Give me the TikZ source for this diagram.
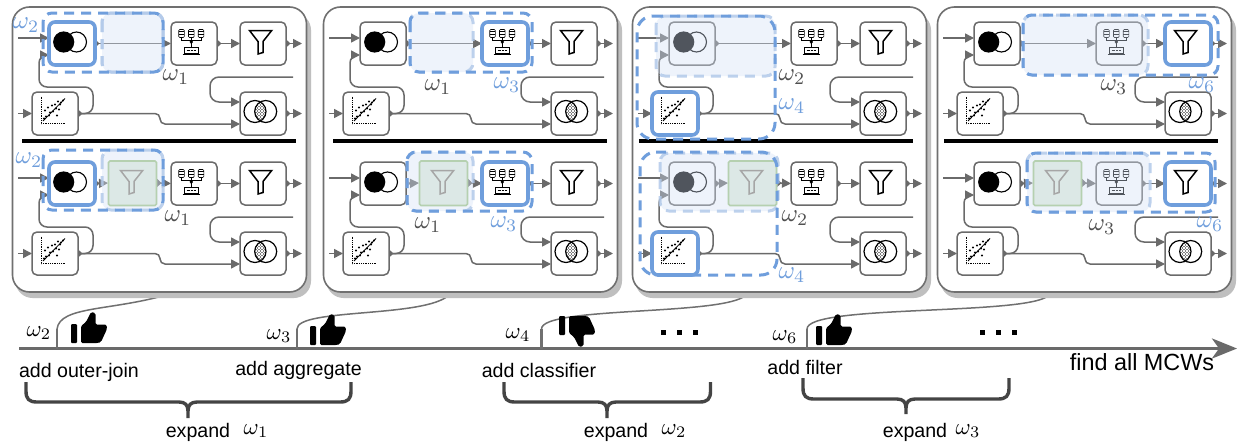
\documentclass[tikz,border=0pt]{standalone}
\usepackage{fontspec}
\setmainfont{Liberation Sans}
\usetikzlibrary{arrows.meta}
\definecolor{lnk}{HTML}{6A6A6A}
\definecolor{bord}{HTML}{707070}
\definecolor{hlb}{HTML}{6F9EDC}
\definecolor{ghb}{HTML}{D4E1F6}
\definecolor{ghd}{HTML}{B3CAEA}
\definecolor{shad}{HTML}{BFBFBF}
\definecolor{gfill}{HTML}{DCE8E6}
\definecolor{gline}{HTML}{B5D0B0}
\definecolor{omg}{HTML}{505050}
\definecolor{dbrace}{HTML}{444444}
\tikzset{
 panelbox/.style={draw=bord,fill=white,line width=1.6pt,rounded corners=17pt,minimum width=294pt,minimum height=285pt,outer sep=0pt},
 shadowbox/.style={fill=shad,rounded corners=17pt},
 opbox/.style={draw=lnk,fill=white,line width=1.5pt,rounded corners=5pt,minimum width=46pt,minimum height=43pt,inner sep=0pt,outer sep=0pt},
 hiddenbox/.style={minimum width=49pt,minimum height=45pt,inner sep=0pt,outer sep=0pt},
 conn/.style={draw=lnk,line width=1.5pt,-{Triangle[length=9pt,width=9pt]}},
 pconn/.style={draw=lnk,line width=1.5pt,{Triangle[reversed,length=4.5pt,width=8pt]}-{Triangle[length=9pt,width=9pt]}},
 ghostarea/.style={fill=ghb,fill opacity=.38,draw=ghd,draw opacity=.85,line width=3pt,dash pattern=on 10pt off 7pt,rounded corners=9pt},
 strongdash/.style={draw=hlb,line width=3pt,dash pattern=on 10pt off 7pt,rounded corners=9pt},
 hilite/.style={draw=hlb,line width=3.6pt,rounded corners=6pt},
 lbl/.style={font=\fontsize{19.6}{22}\selectfont,text=black,anchor=base,inner sep=0pt},
 omgray/.style={text=omg,inner sep=0pt},
 omblue/.style={text=hlb,inner sep=0pt},
 omblack/.style={text=black,inner sep=0pt},
 bracepath/.style={draw=dbrace,line width=3.4pt},
 curveup/.style={draw=bord,line width=1.5pt},
 tickmark/.style={draw=bord,line width=2.8pt},
}
\newcommand\om[1]{\scalebox{2.5}{$\omega_{#1}$}}
\newcommand\omt[1]{\scalebox{2.3}{$\omega_{#1}$}}
\newcommand\iconjoin[2]{\begin{scope}[shift={(#1,#2)}]
 \draw[line width=1.1pt,fill=white] (4.5,-1.5) circle (10);
 \fill[black] (-8.3,-1.5) circle (10.6);
\end{scope}}
\newcommand\iconfunnel[3]{\begin{scope}[shift={(#1,#2)}]
 \draw[draw=#3,line width=1.5pt,fill=none,line join=miter] (-13.5,-13)--(8.7,-13)--(0,-2)--(0,9)--(-5,10.5)--(-5,-2)--cycle;
\end{scope}}
\newcommand\iconinter[2]{\begin{scope}[shift={(#1,#2)}]
 \begin{scope}\clip (-8,-2) circle (11);\clip (2.7,-2) circle (11);
  \foreach \u in {-7,-4,...,5}{\foreach \v in {-13,-10,...,9}{\fill[black] (\u,\v) circle (.62);}}
  \foreach \u in {-5.5,-2.5,...,6.5}{\foreach \v in {-11.5,-8.5,...,9}{\fill[black] (\u,\v) circle (.62);}}
 \end{scope}
 \draw[line width=1.2pt] (-8,-2) circle (11) (2.7,-2) circle (11);
\end{scope}}
\newcommand\iconagg[2]{\begin{scope}[shift={(#1,#2)}]
 \foreach \d in {-12.5,-2.7,7}{
  \draw[line width=.6pt,fill=white,rounded corners=1pt] (\d-2.8,-14) rectangle (\d+2.8,-6);
  \fill[black] (\d-2.8,-12.5) rectangle (\d+2.8,-11.5);
  \fill[black] (\d-2.8,-9.5) rectangle (\d+2.8,-8.7);
  \draw[line width=.5pt] (\d,-6)--(\d,-3);
 }
 \draw[line width=.5pt] (-12.5,-3)--(7,-3) (-2.7,-3)--(-2.7,3.5);
 \fill[black] (-2.7,-3.6)--(-0.9,-1.6)--(-2.7,.4)--(-4.5,-1.6)--cycle;
 \draw[line width=.7pt] (-9.5,3.5) rectangle (4,10);
 \draw[line width=.4pt,densely dotted] (-7.5,6.5)--(2,6.5);
 \draw[line width=1.2pt] (-11.5,11)--(6,11);
\end{scope}}
\newcommand\iconscatter[2]{\begin{scope}[shift={(#1,#2)}]
 \draw[line width=.9pt,dash pattern=on 1pt off .8pt] (-14,-17)--(-14,10)--(11,10);
 \draw[line width=.8pt] (-12,7.5)--(10,-15);
 \foreach \u/\v in {-11/5,-9/3,-10/-3,-7/-6,-5/-1,-3/-8,-2/-2,0/-9,1/-5,2/2,3/-12,5/-9,6/-11,8/-13,4/-4,-6/2}{\fill[black] (\u,\v) circle [radius=1.15];}
\end{scope}}
% one half of a panel; #1 names, #2 x origin, #3 y origin
\newcommand\halfbase[3]{\begin{scope}[shift={(#2,#3)}]
 \node[opbox] (#1j) at (60,43.5) {};
 \node[opbox] (#1a) at (182,43.5) {};
 \node[opbox] (#1f) at (251,43.5) {};
 \node[opbox] (#1c) at (43,113.5) {};
 \node[opbox] (#1i) at (251,113.5) {};
 \coordinate (#1in) at (6,38); \coordinate (#1jt) at (37,38);
 \coordinate (#1jb) at (37,55); \coordinate (#1cb) at (27,55);
 \coordinate (#1cl) at (27,87); \coordinate (#1ct) at (81,87); \coordinate (#1cr) at (81,113.5);
 \coordinate (#1cin) at (6,113.5);
 \coordinate (#1fo) at (290,43.5); \coordinate (#1io) at (290,113.5);
 \coordinate (#1m1) at (148,113.5); \coordinate (#1m2) at (148,124); \coordinate (#1ib) at (228,124);
 \coordinate (#1ft) at (281,77); \coordinate (#1f1) at (198,77); \coordinate (#1f2) at (198,102); \coordinate (#1it) at (228,102);
 \draw[conn] (#1in)--(#1jt);
 \draw[conn] (#1cin)--(#1c.west);
 \draw[conn,rounded corners=8pt] (#1c.east)--(#1cr)--(#1ct)--(#1cl)--(#1cb)--(#1jb);
 \draw[pconn,rounded corners=5pt] (#1c.east)--(#1m1)--(#1m2)--(#1ib);
 \draw[conn,rounded corners=9pt] (#1ft)--(#1f1)--(#1f2)--(#1it);
 \draw[pconn] (#1a.east)--(#1f.west);
 \draw[pconn] (#1f.east)--(#1fo);
 \draw[pconn] (#1i.east)--(#1io);
 \iconjoin{60}{43.5}\iconagg{182}{43.5}\iconfunnel{251}{43.5}{black}
 \iconscatter{43}{113.5}\iconinter{251}{113.5}
\end{scope}}
\newcommand\halfupper[2]{\halfbase{#1}{#2}{0}\draw[pconn] (#1j.east)--(#1a.west);}
\newcommand\halflower[2]{\halfbase{#1}{#2}{140}
 \begin{scope}[shift={(#2,140)}]\node[hiddenbox] (#1g) at (120.5,43) {};\end{scope}
 \draw[pconn] (#1j.east)--(#1g.west);
 \draw[pconn] (#1g.east)--(#1a.west);}
\newcommand\ghostf[1]{\begin{scope}[shift={(#1,140)}]
 \draw[draw=gline,fill=gfill,line width=1.6pt,rounded corners=1.5pt] (96.5,21) rectangle (144.5,65.5);
 \iconfunnel{122}{43.5}{black!35}
\end{scope}}
\newcommand\hili[1]{\draw[hilite] (#1.south west) rectangle (#1.north east);}
\newcommand\thumbup[3]{\begin{scope}[shift={(#1,#2)},yscale=#3]
 \fill[black,rounded corners=1pt] (0,0) rectangle (6,-19);
 \fill[black,rounded corners=1.5pt] (10,0)--(10,-17)--(15,-21)--(20,-31)--(24.5,-30)--(24.5,-18.5)--(35.5,-18.5)--(36,-14)--(30,-1)--(27,0)--cycle;
\end{scope}}
% brace: #1 left, #2 right, #3 middle, #4 top, #5 bar, #6 tip
\newcommand\bracedraw[6]{
 \draw[bracepath,line join=round] (#1,#4)--(#1,#5-11) .. controls (#1,#5-3) and (#1+3,#5) .. (#1+11,#5)
   --(#3-9,#5) .. controls (#3-3,#5) and (#3,#5+3) .. (#3,#5+9)--(#3,#6);
 \draw[bracepath,line join=round] (#2,#4)--(#2,#5-11) .. controls (#2,#5-3) and (#2-3,#5) .. (#2-11,#5)
   --(#3+9,#5) .. controls (#3+3,#5) and (#3,#5+3) .. (#3,#5+9);
}
\begin{document}
\begin{tikzpicture}[x=1pt,y=-1pt]
\useasboundingbox (0,0) rectangle (1237,442);
\fill[white] (0,0) rectangle (1237,442);
% timeline connectors
\coordinate (t1) at (57,329); \coordinate (t2) at (297,329); \coordinate (t3) at (541.5,329); \coordinate (t4) at (807,329);
\coordinate (ax1) at (57,348.5); \coordinate (ax2) at (297,348.5); \coordinate (ax3) at (541.5,348.5); \coordinate (ax4) at (807,348.5);
\coordinate (e1) at (166,295); \coordinate (e2) at (449,295); \coordinate (e3) at (746,295); \coordinate (e4) at (1049,295);
\draw[curveup] (t1) .. controls (60,306) and (110,311) .. (e1);
\draw[curveup] (t2) .. controls (297,308) and (425,318) .. (e2);
\draw[curveup] (t3) .. controls (541.5,306) and (725,316) .. (e3);
\draw[curveup] (t4) .. controls (807,304) and (1030,316) .. (e4);
% panels
\foreach \px/\nm in {12/P1,323/P2,632/P3,937/P4}{
 \fill[shadowbox] (\px+3.5,13) rectangle (\px+299,298);
 \node[panelbox] (\nm) at (\px+147.5,149.5) {};
}
\fill[black] (22,139.2) rectangle (296,143);
\fill[black] (333,139.2) rectangle (607,143);
\fill[black] (639,139.2) rectangle (913,143);
\fill[black] (944,139.2) rectangle (1218,143);
% panel 1
\halfupper{au}{12}\halflower{al}{12}
\fill[ghostarea] (102,13) rectangle (163,72);\draw[ghostarea,fill=none] (102,13) rectangle (163,72);
\draw[strongdash] (43,13) rectangle (163,72);\hili{auj}
\fill[ghostarea,draw=none] (102,150) rectangle (163,210);\draw[ghostarea,fill=none] (102,150) rectangle (163,210);
\ghostf{12}
\draw[strongdash] (43,150) rectangle (163,210);\hili{alj}
\node[omblue] (o1) at (26,25) {\om{2}};
\node[omgray] (o2) at (176,77) {\om{1}};
\node[omblue] (o3) at (29,160) {\om{2}};
\node[omgray] (o4) at (178,218) {\om{1}};
% panel 2
\halfupper{bu}{323}\halflower{bl}{323}
\fill[ghostarea,draw=none] (410,13) rectangle (473,72);\draw[ghostarea,fill=none] (410,13) rectangle (473,72);
\draw[strongdash] (410,13) rectangle (532,72);\hili{bua}
\fill[ghostarea,draw=none] (407,152) rectangle (473,211);\draw[ghostarea,fill=none] (407,152) rectangle (473,211);
\ghostf{323}
\draw[strongdash] (407,152) rectangle (532,211);\hili{bla}
\node[omgray] (o5) at (438,87) {\om{1}};
\node[omblue] (o6) at (507,85) {\om{3}};
\node[omgray] (o7) at (428,225) {\om{1}};
\node[omblue] (o8) at (504,224) {\om{3}};
% panel 3
\halfupper{cu}{632}\halflower{cl}{632}
\fill[ghostarea,draw=none] (656,16) rectangle (775,76);\draw[ghostarea,fill=none] (656,16) rectangle (775,76);
\draw[strongdash,rounded corners=16pt] (637,16)--(775,16)--(775,139)--(637,139)--cycle;\hili{cuc}
\fill[ghostarea,draw=none] (660,153) rectangle (778,211);\draw[ghostarea,fill=none] (660,153) rectangle (778,211);
\ghostf{632}
\draw[strongdash,rounded corners=16pt] (640,152)--(777,152)--(777,275)--(640,275)--cycle;\hili{clc}
\node[omgray] (o9) at (792,77) {\om{2}};
\node[omblue] (o10) at (792,106) {\om{4}};
\node[omgray] (o11) at (795,218) {\om{2}};
\node[omblue] (o12) at (792,275) {\om{4}};
% panel 4
\halfupper{du}{937}\halflower{dl}{937}
\fill[ghostarea,draw=none] (1023,15) rectangle (1148,75);\draw[ghostarea,fill=none] (1023,15) rectangle (1148,75);
\draw[strongdash] (1023,15) rectangle (1218,75);\hili{duf}
\fill[ghostarea,draw=none] (1027,153) rectangle (1150,212);\draw[ghostarea,fill=none] (1027,153) rectangle (1150,212);
\ghostf{937}
\draw[strongdash] (1027,153) rectangle (1215,212);\hili{dlf}
\node[omgray] (o13) at (1114,87) {\om{3}};
\node[omblue] (o14) at (1202,85) {\om{6}};
\node[omgray] (o15) at (1102,227) {\om{3}};
\node[omblue] (o16) at (1210,224) {\om{6}};
% timeline
\coordinate (axs) at (19,348.5); \coordinate (axe) at (1237,348.5);
\draw[draw=lnk,line width=3.2pt,-{Stealth[length=25pt,width=20pt,inset=7pt]},fill=lnk] (axs)--(axe);
\draw[tickmark] (t1)--(ax1); \draw[tickmark] (t2)--(ax2); \draw[tickmark] (t3)--(ax3); \draw[tickmark] (t4)--(ax4);
\thumbup{71}{343}{1}
\thumbup{310}{345}{1}
\thumbup{816}{345}{1}
\thumbup{559}{316}{-1}
\foreach \x in {663,679,695,982,998,1014}{\fill[black] (\x-2.5,329.5) rectangle (\x+2.5,334.5);}
\node[omblack] (w2) at (39,333) {\omt{2}};
\node[omblack] (w3) at (279,336) {\omt{3}};
\node[omblack] (w4) at (518,335) {\omt{4}};
\node[omblack] (w6) at (785,337) {\omt{6}};
\node[lbl] (l1) at (79,377) {add outer-join};
\node[lbl] (l2) at (298.5,375) {add aggregate};
\node[lbl] (l3) at (539,377) {add classifier};
\node[lbl] (l4) at (805,374.5) {add filter};
\node[lbl,font=\fontsize{23.4}{25}\selectfont] (l5) at (1142,370) {find all MCWs};
% braces
\bracedraw{26}{351}{188}{382}{402}{418}
\bracedraw{504}{710.5}{607}{382}{402}{418}
\bracedraw{803}{1009}{906}{378}{399}{414}
\node[lbl] (x1) at (198,437) {expand};
\node[omblack] (y1) at (256,431) {\omt{1}};
\node[lbl] (x2) at (616,437) {expand};
\node[omblack] (y2) at (674,431) {\omt{2}};
\node[lbl] (x3) at (915,437) {expand};
\node[omblack] (y3) at (968,431) {\omt{3}};
\end{tikzpicture}
\end{document}
